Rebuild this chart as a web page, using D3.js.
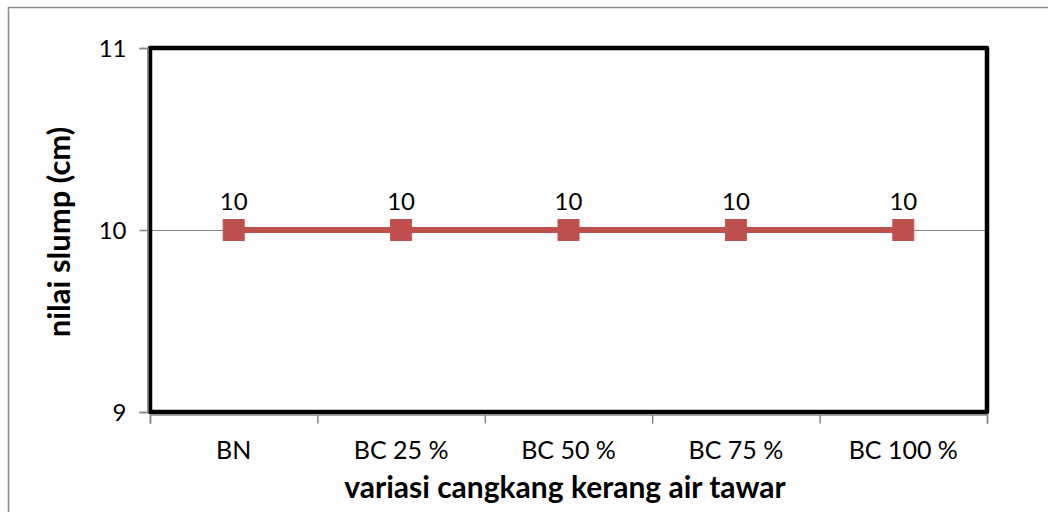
<!DOCTYPE html>
<html>
<head>
<meta charset="utf-8">
<script src="https://cdn.jsdelivr.net/npm/d3@7/dist/d3.min.js"></script>
<style>
  html, body { margin: 0; padding: 0; background: #fff; }
  svg { display: block; }
  text { font-family: Lato, "Open Sans", sans-serif; fill: #000; }
</style>
</head>
<body>
<svg id="chart" width="1048" height="512"></svg>
<script>
// Slump test values per mix variation
const categories = ["BN", "BC 25 %", "BC 50 %", "BC 75 %", "BC 100 %"];
const slumpValues = [10, 10, 10, 10, 10];
const yTicks = [9, 10, 11];
const yTitle = "nilai slump (cm)";
const xTitle = "variasi cangkang kerang air tawar";

const svg = d3.select("#chart");
const W = 1048, H = 512;
const plot = { left: 150, right: 987, top: 48, bottom: 412 };

// outer chart frame
svg.append("rect")
  .attr("x", 8.5).attr("y", 7.5)
  .attr("width", W + 20).attr("height", H + 20)
  .attr("fill", "#fff").attr("stroke", "#8c8c8c").attr("stroke-width", 1.5);

const x = d3.scaleBand().domain(categories).range([plot.left, plot.right]);
const y = d3.scaleLinear().domain([9, 11]).range([plot.bottom, plot.top]);

// horizontal gridline(s)
svg.append("g").selectAll("line")
  .data(yTicks.filter(t => t > 9 && t < 11))
  .join("line")
  .attr("x1", plot.left).attr("x2", plot.right)
  .attr("y1", d => Math.round(y(d)) + 0.5).attr("y2", d => Math.round(y(d)) + 0.5)
  .attr("stroke", "#868686").attr("stroke-width", 1);

// plot area frame
svg.append("rect")
  .attr("x", plot.left).attr("y", plot.top)
  .attr("width", plot.right - plot.left).attr("height", plot.bottom - plot.top)
  .attr("fill", "none").attr("stroke", "#000").attr("stroke-width", 4.5)
  .attr("stroke-linejoin", "round");

// y axis
const yAxis = d3.axisLeft(y).tickValues(yTicks).tickSize(8).tickPadding(13).tickFormat(d3.format("d"));
const gy = svg.append("g").attr("transform", `translate(${plot.left - 2.5},0)`).call(yAxis);
gy.select(".domain").attr("stroke", "#868686").attr("stroke-width", 1.5);
gy.selectAll(".tick line").attr("stroke", "#868686").attr("stroke-width", 1.5);
gy.selectAll(".tick text").style("font-size", "24px").attr("font-family", null).attr("dy", "0.36em");

// x axis: ticks at category boundaries
const xLinear = d3.scaleLinear().domain([0, categories.length]).range([plot.left, plot.right]);
const xAxis = d3.axisBottom(xLinear).tickValues(d3.range(categories.length + 1)).tickSize(9).tickFormat("");
const gx = svg.append("g").attr("transform", `translate(0,${plot.bottom + 2.5})`).call(xAxis);
gx.select(".domain").attr("stroke", "#868686").attr("stroke-width", 1.5);
gx.selectAll(".tick line").attr("stroke", "#868686").attr("stroke-width", 1.5);

// category labels
svg.append("g").selectAll("text")
  .data(categories)
  .join("text")
  .attr("x", d => x(d) + x.bandwidth() / 2)
  .attr("y", 459)
  .attr("text-anchor", "middle")
  .style("font-size", "25px")
  .text(d => d);

// series line
const pts = categories.map((c, i) => ({ c, v: slumpValues[i] }));
const line = d3.line().x(d => x(d.c) + x.bandwidth() / 2).y(d => y(d.v));
svg.append("path")
  .datum(pts)
  .attr("d", line)
  .attr("fill", "none").attr("stroke", "#C0504D").attr("stroke-width", 6);

// square markers
const ms = 21;
svg.append("g").selectAll("rect")
  .data(pts)
  .join("rect")
  .attr("x", d => x(d.c) + x.bandwidth() / 2 - ms / 2)
  .attr("y", d => y(d.v) - ms / 2)
  .attr("width", ms).attr("height", ms)
  .attr("fill", "#C0504D").attr("stroke", "#C0504D").attr("stroke-width", 1);

// data labels
svg.append("g").selectAll("text")
  .data(pts)
  .join("text")
  .attr("x", d => x(d.c) + x.bandwidth() / 2)
  .attr("y", d => y(d.v) - 20)
  .attr("text-anchor", "middle")
  .style("font-size", "24px")
  .text(d => d.v);

// axis titles
svg.append("text")
  .attr("transform", `translate(70,${(plot.top + plot.bottom) / 2 + 2}) rotate(-90)`)
  .attr("text-anchor", "middle")
  .style("font-size", "31px").style("font-weight", "bold")
  .text(yTitle);

svg.append("text")
  .attr("x", 565).attr("y", 498)
  .attr("text-anchor", "middle")
  .style("font-size", "30px").style("font-weight", "bold")
  .text(xTitle);
</script>
</body>
</html>
